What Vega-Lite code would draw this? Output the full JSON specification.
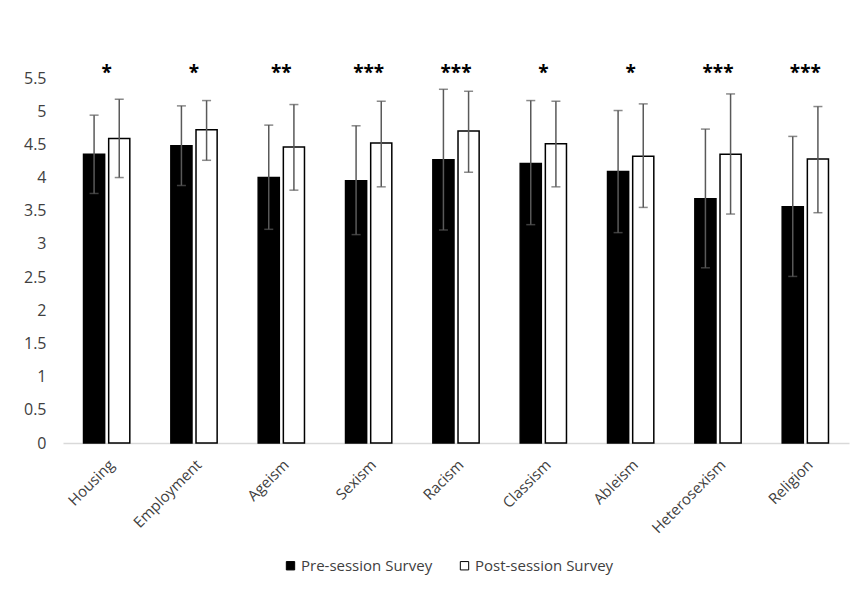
{
  "$schema": "https://vega.github.io/schema/vega-lite/v6.json",
  "width": 786,
  "height": 365,
  "autosize": {"type": "none"},
  "padding": {"left": 63, "top": 78, "right": 16, "bottom": 151},
  "background": "white",
  "config": {
    "view": {"stroke": null},
    "font": "Open Sans",
    "axis": {"labelFont": "Open Sans", "labelFontSize": 15, "labelColor": "#404040", "grid": false, "ticks": false, "title": null, "labelOverlap": false},
    "axisY": {"domain": false, "labelPadding": 17, "labelFontSize": 16, "labelOverlap": false, "labelFlush": false, "labelBound": false}
  },
  "datasets": {
    "bars": [
      {"category": "Housing", "survey": "Pre-session Survey", "mean": 4.35, "lo": 3.76, "hi": 4.94},
      {"category": "Housing", "survey": "Post-session Survey", "mean": 4.59, "lo": 4.0, "hi": 5.18},
      {"category": "Employment", "survey": "Pre-session Survey", "mean": 4.48, "lo": 3.88, "hi": 5.08},
      {"category": "Employment", "survey": "Post-session Survey", "mean": 4.72, "lo": 4.26, "hi": 5.16},
      {"category": "Ageism", "survey": "Pre-session Survey", "mean": 4.0, "lo": 3.22, "hi": 4.79},
      {"category": "Ageism", "survey": "Post-session Survey", "mean": 4.46, "lo": 3.81, "hi": 5.1},
      {"category": "Sexism", "survey": "Pre-session Survey", "mean": 3.95, "lo": 3.14, "hi": 4.78},
      {"category": "Sexism", "survey": "Post-session Survey", "mean": 4.52, "lo": 3.86, "hi": 5.15},
      {"category": "Racism", "survey": "Pre-session Survey", "mean": 4.27, "lo": 3.21, "hi": 5.33},
      {"category": "Racism", "survey": "Post-session Survey", "mean": 4.7, "lo": 4.08, "hi": 5.3},
      {"category": "Classism", "survey": "Pre-session Survey", "mean": 4.21, "lo": 3.29, "hi": 5.16},
      {"category": "Classism", "survey": "Post-session Survey", "mean": 4.51, "lo": 3.86, "hi": 5.15},
      {"category": "Ableism", "survey": "Pre-session Survey", "mean": 4.09, "lo": 3.17, "hi": 5.01},
      {"category": "Ableism", "survey": "Post-session Survey", "mean": 4.32, "lo": 3.55, "hi": 5.11},
      {"category": "Heterosexism", "survey": "Pre-session Survey", "mean": 3.68, "lo": 2.64, "hi": 4.73},
      {"category": "Heterosexism", "survey": "Post-session Survey", "mean": 4.35, "lo": 3.45, "hi": 5.26},
      {"category": "Religion", "survey": "Pre-session Survey", "mean": 3.56, "lo": 2.51, "hi": 4.62},
      {"category": "Religion", "survey": "Post-session Survey", "mean": 4.28, "lo": 3.47, "hi": 5.07}
    ],
    "stars": [
      {"category": "Housing", "sig": "*"},
      {"category": "Employment", "sig": "*"},
      {"category": "Ageism", "sig": "**"},
      {"category": "Sexism", "sig": "***"},
      {"category": "Racism", "sig": "***"},
      {"category": "Classism", "sig": "*"},
      {"category": "Ableism", "sig": "*"},
      {"category": "Heterosexism", "sig": "***"},
      {"category": "Religion", "sig": "***"}
    ]
  },
  "layer": [
    {
      "data": {"name": "bars"},
      "mark": {"type": "bar", "stroke": "#000000", "strokeWidth": 1.5},
      "encoding": {
        "x": {
          "field": "category", "type": "nominal",
          "sort": ["Housing", "Employment", "Ageism", "Sexism", "Racism", "Classism", "Ableism", "Heterosexism", "Religion"],
          "scale": {"paddingInner": 0.47, "paddingOuter": 0.235},
          "axis": {"labelAngle": -45, "labelPadding": 14, "labelDx": -5, "domainColor": "#d9d9d9", "domainWidth": 1.5}
        },
        "xOffset": {
          "field": "survey", "type": "nominal",
          "sort": ["Pre-session Survey", "Post-session Survey"],
          "scale": {"paddingInner": 0.16, "paddingOuter": 0}
        },
        "y": {
          "field": "mean", "type": "quantitative",
          "scale": {"domain": [0, 5.5], "nice": false},
          "axis": {"values": [0, 0.5, 1, 1.5, 2, 2.5, 3, 3.5, 4, 4.5, 5, 5.5], "format": ".2~f", "labelOverlap": false}
        },
        "fill": {
          "field": "survey", "type": "nominal",
          "sort": ["Pre-session Survey", "Post-session Survey"],
          "scale": {"domain": ["Pre-session Survey", "Post-session Survey"], "range": ["#000000", "#ffffff"]},
          "legend": {
            "title": null, "orient": "none", "direction": "horizontal",
            "legendX": 220, "legendY": 480, "padding": 0,
            "symbolType": "square", "symbolSize": 70, "symbolStrokeColor": "#000000", "symbolStrokeWidth": 1,
            "labelFont": "Open Sans", "labelFontSize": 15, "labelColor": "#404040", "labelOffset": 3, "columnPadding": 24
          }
        }
      }
    },
    {
      "data": {"name": "bars"},
      "mark": {"type": "rule", "color": "#595959", "strokeWidth": 1.5},
      "encoding": {
        "x": {"field": "category", "type": "nominal", "sort": ["Housing", "Employment", "Ageism", "Sexism", "Racism", "Classism", "Ableism", "Heterosexism", "Religion"]},
        "xOffset": {"field": "survey", "type": "nominal", "sort": ["Pre-session Survey", "Post-session Survey"]},
        "y": {"field": "lo", "type": "quantitative", "axis": {"values": [0, 0.5, 1, 1.5, 2, 2.5, 3, 3.5, 4, 4.5, 5, 5.5], "format": ".2~f", "labelOverlap": false}},
        "y2": {"field": "hi"}
      }
    },
    {
      "data": {"name": "bars"},
      "mark": {"type": "tick", "color": "#595959", "thickness": 1.5, "size": 9, "orient": "horizontal"},
      "encoding": {
        "x": {"field": "category", "type": "nominal", "sort": ["Housing", "Employment", "Ageism", "Sexism", "Racism", "Classism", "Ableism", "Heterosexism", "Religion"]},
        "xOffset": {"field": "survey", "type": "nominal", "sort": ["Pre-session Survey", "Post-session Survey"]},
        "y": {"field": "lo", "type": "quantitative", "axis": {"values": [0, 0.5, 1, 1.5, 2, 2.5, 3, 3.5, 4, 4.5, 5, 5.5], "format": ".2~f", "labelOverlap": false}}
      }
    },
    {
      "data": {"name": "bars"},
      "mark": {"type": "tick", "color": "#595959", "thickness": 1.5, "size": 9, "orient": "horizontal"},
      "encoding": {
        "x": {"field": "category", "type": "nominal", "sort": ["Housing", "Employment", "Ageism", "Sexism", "Racism", "Classism", "Ableism", "Heterosexism", "Religion"]},
        "xOffset": {"field": "survey", "type": "nominal", "sort": ["Pre-session Survey", "Post-session Survey"]},
        "y": {"field": "hi", "type": "quantitative", "axis": {"values": [0, 0.5, 1, 1.5, 2, 2.5, 3, 3.5, 4, 4.5, 5, 5.5], "format": ".2~f", "labelOverlap": false}}
      }
    },
    {
      "data": {"name": "stars"},
      "mark": {"type": "text", "font": "Open Sans", "fontSize": 19, "fontWeight": "bold", "color": "#000000", "baseline": "middle", "align": "center"},
      "encoding": {
        "x": {"field": "category", "type": "nominal", "sort": ["Housing", "Employment", "Ageism", "Sexism", "Racism", "Classism", "Ableism", "Heterosexism", "Religion"]},
        "y": {"datum": 5.58, "type": "quantitative", "axis": {"values": [0, 0.5, 1, 1.5, 2, 2.5, 3, 3.5, 4, 4.5, 5, 5.5], "format": ".2~f", "labelOverlap": false}},
        "text": {"field": "sig"}
      }
    }
  ]
}
